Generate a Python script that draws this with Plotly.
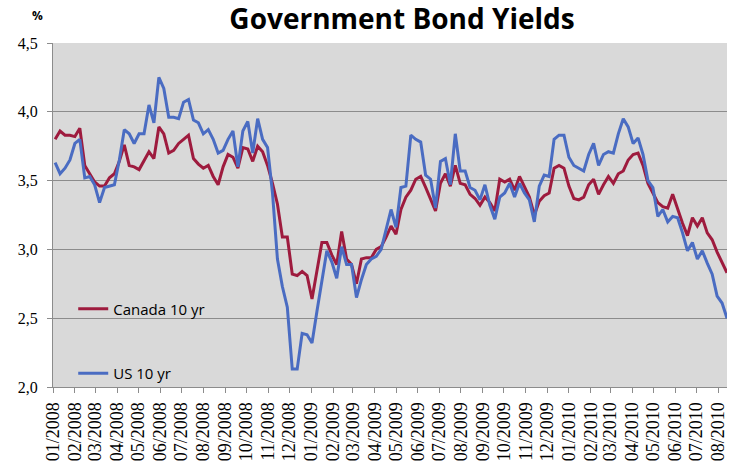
import pandas as pd
import plotly.graph_objects as go

# Weekly observations, first week of January 2008 through mid-August 2010
start_date = "2008-01-04"
n_weeks = 137
week_dates = pd.date_range(start_date, periods=n_weeks, freq="7D")

canada_10yr = [
    3.80, 3.86, 3.83, 3.83, 3.82, 3.88, 3.61, 3.55, 3.49, 3.46,
    3.46, 3.52, 3.55, 3.64, 3.76, 3.61, 3.60, 3.58, 3.64, 3.71,
    3.66, 3.89, 3.84, 3.70, 3.72, 3.77, 3.80, 3.83, 3.66, 3.62,
    3.59, 3.61, 3.53, 3.47, 3.60, 3.69, 3.67, 3.59, 3.74, 3.73,
    3.64, 3.75, 3.71, 3.61, 3.48, 3.33, 3.09, 3.09, 2.82, 2.81,
    2.84, 2.81, 2.64, 2.84, 3.05, 3.05, 2.96, 2.89, 3.13, 2.93,
    2.89, 2.75, 2.93, 2.94, 2.94, 3.00, 3.02, 3.09, 3.17, 3.11,
    3.29, 3.38, 3.43, 3.51, 3.53, 3.45, 3.37, 3.28, 3.48, 3.55,
    3.46, 3.61, 3.48, 3.47, 3.40, 3.37, 3.32, 3.38, 3.34, 3.28,
    3.51, 3.49, 3.51, 3.43, 3.53, 3.46, 3.38, 3.25, 3.35, 3.39,
    3.41, 3.59, 3.61, 3.59, 3.46, 3.37, 3.36, 3.38, 3.47, 3.51,
    3.40, 3.47, 3.53, 3.48, 3.55, 3.57, 3.65, 3.69, 3.70, 3.61,
    3.48, 3.41, 3.34, 3.31, 3.30, 3.40, 3.29, 3.19, 3.10, 3.23,
    3.17, 3.23, 3.12, 3.07, 2.98, 2.91, 2.83,
]

us_10yr = [
    3.63, 3.55, 3.59, 3.65, 3.77, 3.80, 3.52, 3.53, 3.47, 3.34,
    3.45, 3.46, 3.47, 3.65, 3.87, 3.84, 3.77, 3.84, 3.84, 4.05,
    3.92, 4.25, 4.17, 3.96, 3.96, 3.95, 4.07, 4.09, 3.94, 3.92,
    3.84, 3.87, 3.80, 3.70, 3.72, 3.80, 3.86, 3.60, 3.86, 3.93,
    3.70, 3.95, 3.80, 3.74, 3.41, 2.93, 2.73, 2.58, 2.13, 2.13,
    2.39, 2.38, 2.32, 2.55, 2.78, 2.99, 2.91, 2.79, 3.02, 2.89,
    2.89, 2.65, 2.78, 2.89, 2.93, 2.95, 3.00, 3.14, 3.29, 3.16,
    3.45, 3.46, 3.83, 3.80, 3.78, 3.54, 3.51, 3.30, 3.64, 3.66,
    3.47, 3.84, 3.57, 3.57, 3.45, 3.43, 3.36, 3.47, 3.32, 3.22,
    3.38, 3.41, 3.48, 3.38, 3.48, 3.41, 3.36, 3.20, 3.46, 3.54,
    3.53, 3.80, 3.83, 3.83, 3.67, 3.61, 3.59, 3.57, 3.69, 3.77,
    3.61, 3.69, 3.71, 3.70, 3.84, 3.95, 3.89, 3.77, 3.81, 3.69,
    3.50, 3.45, 3.24, 3.29, 3.20, 3.24, 3.23, 3.12, 2.99, 3.05,
    2.93, 2.99, 2.90, 2.82, 2.66, 2.61, 2.50,
]

y_ticks = [2.0, 2.5, 3.0, 3.5, 4.0, 4.5]

CANADA_COLOR = "#9E1B3E"
US_COLOR = "#4A6CC2"
GRID_COLOR = "#8C8C8C"

fig = go.Figure()
fig.add_trace(go.Scatter(
    x=week_dates, y=canada_10yr, mode="lines", name="Canada 10 yr",
    legendgroup="ca", line=dict(color=CANADA_COLOR, width=3),
))
fig.add_trace(go.Scatter(
    x=week_dates, y=us_10yr, mode="lines", name="US 10 yr",
    legendgroup="us", line=dict(color=US_COLOR, width=3),
))

fig.update_layout(
    width=735, height=466,
    margin=dict(l=53, r=8, t=43, b=79),
    paper_bgcolor="white",
    plot_bgcolor="#D9D9D9",
    separators=",.",
    title=dict(
        text="<b>Government Bond Yields</b>",
        x=0.547, xanchor="center", y=0.958, yanchor="middle",
        font=dict(family="Open Sans", size=28, color="black"),
        automargin=False,
    ),
    showlegend=True,
    legend=dict(
        x=0.03, xanchor="left", y=0.275, yanchor="top",
        bgcolor="rgba(0,0,0,0)", borderwidth=0,
        font=dict(family="Open Sans", size=15, color="black"),
        tracegroupgap=42, traceorder="grouped",
    ),
    annotations=[dict(
        text="<b>%</b>", xref="paper", yref="paper",
        x=-0.012, y=1.08, xanchor="right", yanchor="middle",
        showarrow=False, font=dict(family="Open Sans", size=12, color="black"),
    )],
)

fig.update_xaxes(
    type="date",
    range=["2008-01-01", "2010-08-13"],
    tick0="2008-01-01", dtick="M1", tickformat="%m/%Y",
    tickangle=-90,
    ticks="outside", ticklen=5, tickcolor=GRID_COLOR,
    tickfont=dict(family="Liberation Serif", size=18, color="black"),
    ticklabelstandoff=2,
    automargin=False,
    showgrid=False, zeroline=False,
    showline=True, linecolor=GRID_COLOR, linewidth=1,
)

fig.update_yaxes(
    range=[2.0, 4.5],
    tickmode="array", tickvals=y_ticks, tickformat=".1f",
    ticks="outside", ticklen=5, tickcolor=GRID_COLOR,
    tickfont=dict(family="Liberation Serif", size=16, color="black"),
    ticklabelstandoff=6,
    automargin=False,
    showgrid=True, gridcolor=GRID_COLOR, gridwidth=1,
    zeroline=False,
    showline=True, linecolor=GRID_COLOR, linewidth=1,
)

fig.write_html("out.html")
